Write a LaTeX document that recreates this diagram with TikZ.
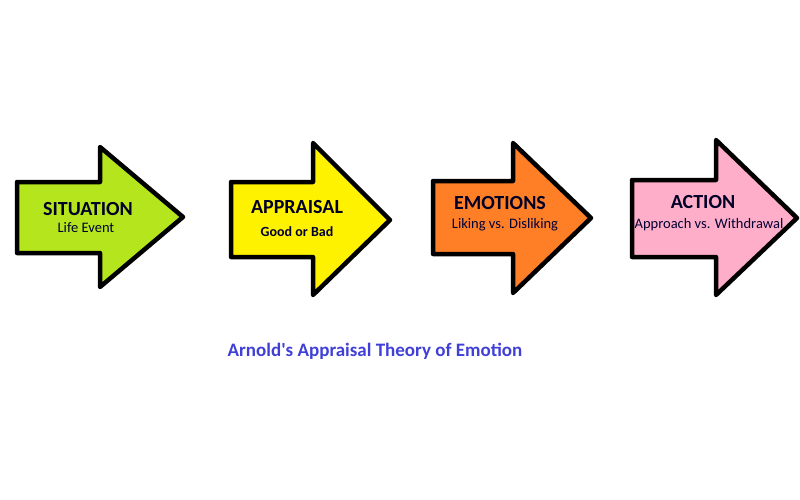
\documentclass[tikz,border=0pt]{standalone}
\usepackage{fontspec}
\setmainfont{Carlito}
\definecolor{limegreen}{RGB}{181,230,29}
\definecolor{sunorange}{RGB}{255,127,39}
\definecolor{softpink}{RGB}{255,174,201}
\definecolor{titleblue}{RGB}{64,64,215}
\begin{document}
\begin{tikzpicture}[
		x=1pt, y=-1pt,
		arrowshape/.style={draw=black, line width=4.5pt, line join=round},
		headline/.style={font=\bfseries\fontsize{20}{22}\selectfont, text=black!85!blue},
		subline/.style={font=\fontsize{14.5}{16}\selectfont, text=black!80!blue}
		]
		\useasboundingbox (0,0) rectangle (800,500);
		% Block arrows: left, body top, body bottom, head x, head top, head bottom, tip x, tip y, colour
		\foreach \l/\bt/\bb/\hx/\ht/\hb/\tx/\ty/\col in {
			17/182/253/100/147/287/183/217/limegreen,
			231/182/257/313/143/295/390/220/yellow,
			433/181/254/513/143/293/591/218/sunorange,
			632/180/257/716/140/295/797/218/softpink}
		\draw[arrowshape, fill=\col] (\l,\bt) -- (\hx,\bt) -- (\hx,\ht) -- (\tx,\ty)
			-- (\hx,\hb) -- (\hx,\bb) -- (\l,\bb) -- cycle;
		% Labels
		\node[headline] (situation) at (88,209) {SITUATION};
		\node[subline] (lifeevent) at (86,228) {Life Event};
		\node[headline] (appraisal) at (297,207) {APPRAISAL};
		\node[subline, font=\bfseries\fontsize{14}{16}\selectfont] (goodbad) at (297,232) {Good or Bad};
		\node[headline] (emotions) at (500,203) {EMOTIONS};
		\node[subline] (liking) at (505,225) {Liking vs. Disliking};
		\node[headline] (action) at (703,202) {ACTION};
		\node[subline] (approach) at (709,225) {Approach vs. Withdrawal};
		% Title
		\node[font=\bfseries\fontsize{19}{21}\selectfont, text=titleblue] (title) at (375,351) {Arnold\textquotesingle s Appraisal Theory of Emotion};
	\end{tikzpicture}
\end{document}
